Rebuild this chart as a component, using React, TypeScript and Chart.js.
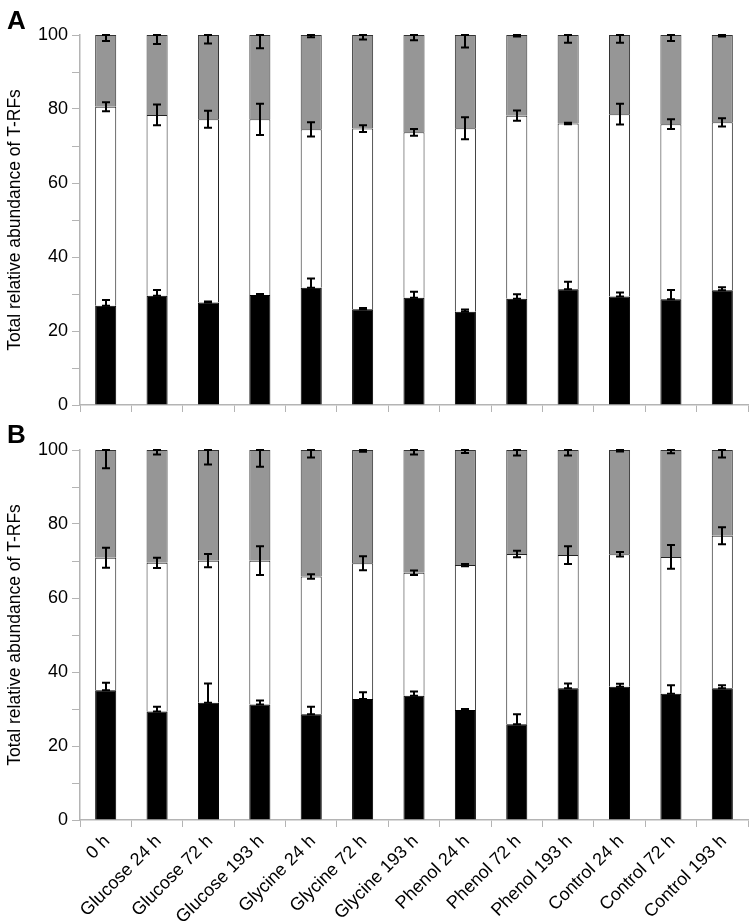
import React, { useEffect, useRef } from 'react';
import { Chart, registerables } from 'chart.js';
Chart.register(...registerables);

const categories = ['0 h', 'Glucose 24 h', 'Glucose 72 h', 'Glucose 193 h', 'Glycine 24 h', 'Glycine 72 h', 'Glycine 193 h', 'Phenol 24 h', 'Phenol 72 h', 'Phenol 193 h', 'Control 24 h', 'Control 72 h', 'Control 193 h'];
const yTickLabels = [0, 20, 40, 60, 80, 100];

// Panel A segment values (%)
const aBlack = [26.8, 29.5, 27.7, 29.7, 31.7, 25.9, 29.0, 25.2, 28.7, 31.3, 29.3, 28.6, 31.0];
const aWhite = [53.8, 48.9, 49.5, 47.5, 42.8, 48.8, 44.7, 49.6, 49.5, 44.8, 49.3, 47.3, 45.4];
const aGray = [19.4, 21.6, 22.8, 22.8, 25.5, 25.3, 26.3, 25.2, 21.8, 23.9, 21.4, 24.1, 23.6];
const aBlackErr = [1.6, 1.6, 0.3, 0.3, 2.5, 0.3, 1.6, 0.6, 1.2, 2.0, 1.1, 2.5, 0.8];
const aWhiteErr = [1.2, 2.8, 2.3, 4.2, 1.9, 0.9, 0.9, 3.0, 1.4, 0.2, 2.8, 1.3, 1.1];
const aGrayErr = [1.6, 2.4, 2.3, 3.6, 0.6, 1.2, 1.4, 3.4, 0.4, 2.1, 2.1, 1.6, 0.4];

// Panel B segment values (%)
const bBlack = [35.1, 29.3, 31.7, 31.2, 28.6, 32.7, 33.6, 29.7, 25.9, 35.6, 36.0, 34.1, 35.6];
const bWhite = [35.8, 40.2, 38.4, 38.9, 37.2, 36.7, 33.2, 39.2, 46.0, 36.0, 35.8, 37.0, 41.2];
const bGray = [29.1, 30.5, 29.9, 29.9, 34.2, 30.6, 33.2, 31.1, 28.1, 28.4, 28.2, 28.9, 23.2];
const bBlackErr = [2.0, 1.3, 5.2, 1.1, 2.0, 1.8, 1.1, 0.3, 2.7, 1.3, 0.8, 2.3, 0.8];
const bWhiteErr = [2.7, 1.4, 1.8, 3.9, 0.6, 1.9, 0.6, 0.3, 0.9, 2.4, 0.6, 3.2, 2.3];
const bGrayErr = [4.9, 1.2, 3.9, 4.5, 2.0, 0.5, 1.2, 0.8, 1.5, 1.5, 0.4, 0.9, 2.0];

const FONT = 'Arial, "Liberation Sans", sans-serif';
const AXIS_GRAY = '#b4b4b4';

function makeConfig(black: number[], white: number[], gray: number[], errs: number[][], letter: string, letterBaseline: number, padTop: number, xHeight: number, showLabels: boolean): any {
  const errPlugin = {
    id: 'errbars' + letter,
    afterDatasetsDraw(chart: any) {
      const ctx = chart.ctx;
      const ys = chart.scales.y;
      const ds = chart.data.datasets;
      ctx.save();
      ctx.strokeStyle = '#000';
      ctx.lineWidth = 2;
      ds.forEach((d: any, di: number) => {
        const meta = chart.getDatasetMeta(di);
        meta.data.forEach((el: any, j: number) => {
          let cum = 0;
          for (let k = 0; k <= di; k++) cum += ds[k].data[j];
          const e = errs[di][j];
          let lo: number, hi: number;
          if (di === 0) { lo = cum; hi = cum + e; }
          else if (di === 1) { lo = cum - e; hi = cum + e; }
          else { lo = 100 - e; hi = 100; }
          const x = Math.round(el.x);
          const y1 = ys.getPixelForValue(lo);
          const y2 = ys.getPixelForValue(hi);
          ctx.beginPath();
          ctx.moveTo(x, y1);
          ctx.lineTo(x, y2);
          ctx.moveTo(x - 4, y2);
          ctx.lineTo(x + 4, y2);
          ctx.moveTo(x - 4, y1);
          ctx.lineTo(x + 4, y1);
          ctx.stroke();
        });
      });
      ctx.restore();
    },
    afterDraw(chart: any) {
      const ctx = chart.ctx;
      ctx.save();
      ctx.fillStyle = '#000';
      ctx.font = 'bold 26px ' + FONT;
      ctx.textBaseline = 'alphabetic';
      ctx.textAlign = 'left';
      ctx.fillText(letter, 7, letterBaseline);
      if (showLabels) {
        const xs = chart.scales.x;
        ctx.font = '18px ' + FONT;
        ctx.textAlign = 'right';
        ctx.textBaseline = 'alphabetic';
        categories.forEach((lab, i) => {
          const cx = xs.getPixelForValue(i);
          ctx.save();
          ctx.translate(cx + 5, xs.top + 22);
          ctx.rotate(-Math.PI / 4);
          ctx.fillText(lab, 0, 0);
          ctx.restore();
        });
      }
      ctx.restore();
    },
  };
  return {
    type: 'bar',
    data: {
      labels: categories,
      datasets: [
        { data: black, backgroundColor: '#000000', borderColor: '#000000', borderWidth: 1 },
        { data: white, backgroundColor: '#ffffff', borderColor: '#222222', borderWidth: 1 },
        { data: gray, backgroundColor: '#969696', borderColor: '#333333', borderWidth: 1 },
      ],
    },
    options: {
      responsive: false,
      animation: false,
      layout: { padding: { top: padTop, right: 8, left: 0, bottom: 0 } },
      plugins: { legend: { display: false }, tooltip: { enabled: false }, title: { display: false } },
      datasets: { bar: { categoryPercentage: 1, barPercentage: 0.41 } },
      scales: {
        x: {
          stacked: true,
          offset: true,
          grid: { display: true, drawOnChartArea: false, drawTicks: true, tickLength: 7, color: AXIS_GRAY, offset: true },
          border: { display: true, color: AXIS_GRAY, width: 1.5 },
          ticks: { display: false },
          afterFit: (s: any) => { s.height = xHeight; },
        },
        y: {
          stacked: true,
          min: 0,
          max: 100,
          grid: { display: true, drawOnChartArea: false, drawTicks: true, tickLength: 8, color: AXIS_GRAY },
          border: { display: true, color: AXIS_GRAY, width: 1.5 },
          ticks: {
            stepSize: 10,
            padding: 4,
            color: '#000',
            font: { family: FONT, size: 18 },
            callback: (v: any) => (yTickLabels.includes(Number(v)) ? String(v) : ''),
          },
          title: {
            display: true,
            text: 'Total relative abundance of T-RFs',
            color: '#000',
            font: { family: FONT, size: 17.5 },
            padding: { top: 5, bottom: 0 },
          },
          afterFit: (s: any) => { s.width = 80; },
        },
      },
    },
    plugins: [errPlugin],
  };
}

function Panel(props: { top: number; height: number; cfg: () => any }) {
  const ref = useRef<HTMLCanvasElement>(null);
  useEffect(() => {
    const chart = new Chart(ref.current as HTMLCanvasElement, props.cfg());
    return () => chart.destroy();
  }, []);
  return (
    <canvas
      ref={ref}
      width={756}
      height={props.height}
      style={{ position: 'absolute', left: 0, top: props.top, width: 756, height: props.height, display: 'block' }}
    />
  );
}

export default function App() {
  return (
    <div style={{ position: 'absolute', left: 0, top: 0, width: 756, height: 923, background: '#fff' }}>
      <Panel top={0} height={420} cfg={() => makeConfig(aBlack, aWhite, aGray, [aBlackErr, aWhiteErr, aGrayErr], 'A', 29, 35, 15, false)} />
      <Panel top={420} height={503} cfg={() => makeConfig(bBlack, bWhite, bGray, [bBlackErr, bWhiteErr, bGrayErr], 'B', 23, 30, 103, true)} />
    </div>
  );
}
